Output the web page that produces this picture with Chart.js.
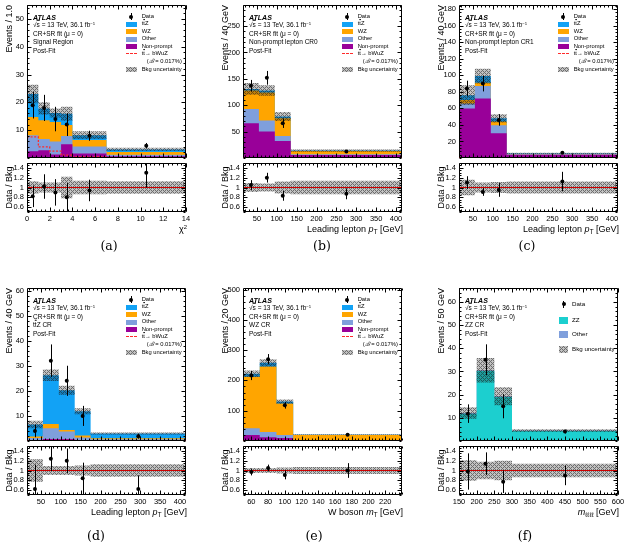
<!DOCTYPE html>
<html>
<head>
<meta charset="utf-8">
<script src="https://cdn.jsdelivr.net/npm/chart.js@4.4.1/dist/chart.umd.min.js"></script>
<style>
  body { margin: 0; background: #fff; }
  #fig { position: relative; width: 626px; height: 552px; overflow: hidden;
         font-family: "Liberation Sans", Arial, sans-serif; color: #000; }
  #fig canvas { position: absolute; }
  .txt { position: absolute; white-space: nowrap; line-height: 1; z-index: 5; }
  .ov { text-decoration: overline; }
  .sup { font-size: 65%; position: relative; top: -0.5em; }
  .sub { font-size: 70%; position: relative; top: 0.3em; }
  .box { position: absolute; z-index: 5; }
</style>
</head>
<body>
<div id="fig"></div>
<script>
// ---- data ----
const ratioTicks = [0.6, 0.8, 1, 1.2, 1.4];
const ptTicks = [50, 100, 150, 200, 250, 300, 350, 400];

// (a) signal region, chi^2
const aEdges = [0, 1, 2, 3, 4, 7, 14];
const aNonprompt = [2.4, 2.8, 1.3, 4.9, 1.6, 0.6];
const aOther = [5.8, 4.0, 4.6, 3.0, 2.5, 0.6];
const aWz = [6.5, 6.8, 7.0, 4.0, 2.4, 1.0];
const aTtz = [8.3, 4.2, 3.3, 4.0, 1.7, 0.9];
const aUnc = [3.3, 2.2, 1.6, 2.5, 1.4, 0.6];
const aSignal = [7.6, 4.0, 2.5, 1.0, 0.4, 0.1];
const aData = [19, 18, 14, 12, 8, 4.4];
const aDataErr = [4.8, 4.7, 4.4, 4.1, 1.8, 1.0];
const aRatio = [0.82, 1.02, 0.9, 0.8, 0.94, 1.3];
const aRatioErr = [0.22, 0.25, 0.27, 0.29, 0.22, 0.3];
const aRatioUnc = [0.13, 0.1, 0.1, 0.22, 0.14, 0.13];
const aXTicks = [0, 2, 4, 6, 8, 10, 12, 14];
const aYTicks = [10, 20, 30, 40, 50];

// (b) non-prompt lepton CR0
const bEdges = [15, 55, 95, 135, 415];
const bNonprompt = [66, 50, 32, 5.5];
const bOther = [27, 21, 9.5, 1.5];
const bWz = [35, 53, 34, 6.5];
const bTtz = [3, 4, 3, 0.5];
const bUnc = [11, 10, 8.5, 2];
const bSignal = [0.6, 0.5, 0.3, 0.05];
const bData = [137, 152, 66, 12.3];
const bDataErr = [11, 13, 9, 1.5];
const bRatio = [1.05, 1.2, 0.83, 0.87];
const bRatioErr = [0.1, 0.1, 0.1, 0.11];
const bRatioUnc = [0.09, 0.08, 0.12, 0.14];
const bYTicks = [50, 100, 150, 200, 250];

// (c) non-prompt lepton CR1
const cEdges = [15, 55, 95, 135, 415];
const cNonprompt = [60, 72, 30, 4.0];
const cOther = [6, 15, 9.5, 0.6];
const cWz = [4, 4, 4.5, 0.3];
const cTtz = [6, 8, 4, 0.6];
const cUnc = [12, 9, 5, 0.7];
const cSignal = [0.3, 0.3, 0.2, 0.02];
const cData = [84, 90, 46, 6.2];
const cDataErr = [9.5, 9.5, 7, 0.9];
const cRatio = [1.1, 0.91, 0.95, 1.12];
const cRatioErr = [0.13, 0.08, 0.14, 0.2];
const cRatioUnc = [0.16, 0.1, 0.11, 0.12];
const cYTicks = [20, 40, 60, 80, 100, 120, 140, 160, 180];

// (d) ttZ CR
const dEdges = [15, 55, 95, 135, 175, 415];
const dNonprompt = [0.3, 0.8, 0.8, 0.4, 0.2];
const dOther = [0.9, 4.3, 3.0, 1.0, 0.5];
const dWz = [0.6, 1.7, 0.6, 0.8, 0.4];
const dTtz = [4.8, 19.4, 15.8, 9.7, 1.9];
const dUnc = [1.5, 2.3, 1.8, 1.2, 0.4];
const dSignal = [0.05, 0.2, 0.2, 0.1, 0.02];
const dData = [4, 32, 24, 10, 1.85];
const dDataErr = [2.5, 6.5, 6, 4, 0.9];
const dRatio = [0.62, 1.24, 1.2, 0.84, 0.62];
const dRatioErr = [0.5, 0.25, 0.25, 0.32, 0.28];
const dRatioUnc = [0.23, 0.09, 0.09, 0.1, 0.13];
const dYTicks = [10, 20, 30, 40, 50, 60];

// (e) WZ CR
const eEdges = [50, 70, 90, 110, 240];
const eNonprompt = [20, 12, 10, 1.5];
const eOther = [22, 18, 10, 2];
const eWz = [170, 216, 104, 16];
const eTtz = [10, 12, 6, 1.5];
const eUnc = [11, 12, 7, 1.5];
const eSignal = [0.5, 0.5, 0.3, 0.05];
const eData = [216, 270, 118, 21];
const eDataErr = [15, 17, 11, 1.8];
const eRatio = [0.97, 1.05, 0.91, 1.0];
const eRatioErr = [0.07, 0.07, 0.09, 0.15];
const eRatioUnc = [0.05, 0.05, 0.06, 0.07];
const eXTicks = [60, 80, 100, 120, 140, 160, 180, 200, 220];
const eYTicks = [100, 200, 300, 400, 500];

// (f) ZZ CR
const fEdges = [150, 200, 250, 300, 600];
const fZz = [11.8, 30.2, 19.0, 4.3];
const fOther = [0.3, 0.3, 0.3, 0.2];
const fUnc = [2.5, 5.3, 3.9, 0.6];
const fData = [11.8, 35, 15, 4.05];
const fDataErr = [4, 6.7, 5.2, 0.8];
const fRatio = [0.98, 1.14, 0.77, 0.9];
const fRatioErr = [0.37, 0.23, 0.23, 0.2];
const fRatioUnc = [0.21, 0.18, 0.2, 0.14];
const fXTicks = [150, 200, 250, 300, 350, 400, 450, 500, 550, 600];
const fYTicks = [10, 20, 30, 40, 50, 60];

// ---- styles ----
const C_TTZ = '#12a2f5', C_WZ = '#ffa500', C_OTHER = '#7f9fdc', C_NP = '#990099', C_ZZ = '#1ccfcf';
const C_SIG = '#ff2a2a';
const FONT = '"Liberation Sans", Arial, sans-serif';
const AXW = 27, PADR = 10, PADT = 5, XLAB = 22;

const fig = document.getElementById('fig');

function makeTile() {
  const t = document.createElement('canvas');
  t.width = 4; t.height = 4;
  const c = t.getContext('2d');
  const img = c.createImageData(4, 4);
  for (let y = 0; y < 4; y++) {
    for (let x = 0; x < 4; x++) {
      const dark = (x + y) % 4 === 0 || (x - y + 4) % 4 === 0;
      const i = (y * 4 + x) * 4;
      img.data[i] = img.data[i + 1] = img.data[i + 2] = 30;
      img.data[i + 3] = dark ? 165 : 70;
    }
  }
  c.putImageData(img, 0, 0);
  return t;
}
const tile = makeTile();
const tileUrl = tile.toDataURL();

function steps(edges, vals) {
  const pts = vals.map((v, i) => ({ x: edges[i], y: v }));
  pts.push({ x: edges[edges.length - 1], y: vals[vals.length - 1] });
  return pts;
}
function centers(edges, vals) {
  return vals.map((v, i) => ({ x: (edges[i] + edges[i + 1]) / 2, y: v }));
}
function cumulate(list) {
  let acc = list[0].map(() => 0);
  return list.map(v => (acc = acc.map((a, i) => a + v[i])));
}
function minorValues(min, max, step) {
  const out = [];
  for (let k = Math.ceil(min / step - 1e-9); k * step <= max + 1e-9; k++) out.push(k * step);
  return out;
}

const framePlugin = {
  id: 'frame',
  afterDraw(chart, args, o) {
    const { ctx, chartArea: a } = chart;
    const xs = chart.scales.x, ys = chart.scales.y;
    const L = Math.round(a.left) + 0.5, R = Math.round(a.right) - 0.5;
    const T = Math.round(a.top) + 0.5, B = Math.round(a.bottom) - 0.5;
    ctx.save();
    ctx.strokeStyle = '#000';
    ctx.lineWidth = 1;
    ctx.beginPath();
    const tickX = (v, len) => {
      const x = Math.round(xs.getPixelForValue(v)) + 0.5;
      ctx.moveTo(x, B); ctx.lineTo(x, B - len);
      ctx.moveTo(x, T); ctx.lineTo(x, T + len);
    };
    const tickY = (v, len) => {
      const y = Math.round(ys.getPixelForValue(v)) + 0.5;
      ctx.moveTo(L, y); ctx.lineTo(L + len, y);
      ctx.moveTo(R, y); ctx.lineTo(R - len, y);
    };
    o.xMajor.forEach(v => tickX(v, 4));
    minorValues(xs.min, xs.max, o.xStep).forEach(v => tickX(v, 2));
    o.yMajor.forEach(v => tickY(v, 4));
    minorValues(ys.min, ys.max, o.yStep).forEach(v => tickY(v, 2));
    ctx.rect(L, T, R - L, B - T);
    ctx.stroke();
    ctx.restore();
  }
};

const errorPlugin = {
  id: 'errbars',
  afterDatasetsDraw(chart) {
    const { ctx, chartArea: a } = chart;
    const ys = chart.scales.y;
    chart.data.datasets.forEach((d, i) => {
      if (!d.errors) return;
      const meta = chart.getDatasetMeta(i);
      ctx.save();
      ctx.beginPath();
      ctx.rect(a.left, a.top, a.right - a.left, a.bottom - a.top);
      ctx.clip();
      ctx.strokeStyle = '#000';
      ctx.lineWidth = 1;
      meta.data.forEach((pt, j) => {
        const v = d.data[j].y, e = d.errors[j];
        const x = Math.round(pt.x) + 0.5;
        ctx.beginPath();
        ctx.moveTo(x, ys.getPixelForValue(v + e));
        ctx.lineTo(x, ys.getPixelForValue(v - e));
        ctx.stroke();
      });
      ctx.restore();
    });
  }
};

function yScale(min, max, ticks, title, align) {
  return {
    type: 'linear', min, max,
    grid: { display: false, drawTicks: false }, border: { display: false },
    afterBuildTicks: s => { s.ticks = ticks.map(v => ({ value: v })); },
    afterFit: s => { s.width = AXW; s.paddingTop = 0; s.paddingBottom = 0; },
    ticks: { font: { family: FONT, size: 7.5 }, color: '#000', padding: 3, callback: v => String(v) },
    title: { display: true, text: title, align, color: '#000',
             font: { family: FONT, size: 9 }, padding: { top: 4.5, bottom: 0 } }
  };
}

function line(data, extra) {
  return Object.assign({ data, stepped: true, pointRadius: 0, borderWidth: 0,
                         borderColor: 'transparent', fill: false, tension: 0 }, extra);
}

function addText(html, x, y, size, anchor, extraStyle) {
  const d = document.createElement('div');
  d.className = 'txt';
  d.innerHTML = html;
  d.style.left = x + 'px';
  d.style.top = y + 'px';
  d.style.fontSize = size + 'px';
  d.style.transform = anchor === 'right' ? 'translate(-100%,-50%)'
                    : anchor === 'center' ? 'translate(-50%,-50%)' : 'translateY(-50%)';
  if (extraStyle) Object.assign(d.style, extraStyle);
  fig.appendChild(d);
  return d;
}
function addBox(x, y, w, h, style) {
  const d = document.createElement('div');
  d.className = 'box';
  Object.assign(d.style, { left: x + 'px', top: y + 'px', width: w + 'px', height: h + 'px' }, style);
  fig.appendChild(d);
}

function buildPanel(p) {
  const fw = p.fw, mh = p.mh, rh = p.rh;
  const xmin = p.edges[0], xmax = p.edges[p.edges.length - 1];

  // main histogram pad
  const mc = document.createElement('canvas');
  mc.width = fw + AXW + PADR;
  mc.height = mh + PADT;
  mc.style.left = (p.fx - AXW) + 'px';
  mc.style.top = (p.fy - PADT) + 'px';
  fig.appendChild(mc);
  const mctx = mc.getContext('2d');
  const hatch = mctx.createPattern(tile, 'repeat');

  const cum = cumulate(p.stack.map(s => s.v));
  const total = cum[cum.length - 1];
  const ds = [];
  p.stack.forEach((s, k) => {
    ds.push(line(steps(p.edges, cum[k]), { backgroundColor: s.c, fill: 'origin', order: 100 + k }));
  });
  const lowIdx = ds.length;
  ds.push(line(steps(p.edges, total.map((t, i) => t - p.unc[i])), { order: 50 }));
  ds.push(line(steps(p.edges, total.map((t, i) => t + p.unc[i])),
               { fill: { target: lowIdx }, backgroundColor: hatch, order: 49 }));
  if (p.signal) {
    ds.push(line(steps(p.edges, p.signal),
                 { borderColor: C_SIG, borderWidth: 1.3, borderDash: [2, 1.6], order: 10 }));
  }
  ds.push({ data: centers(p.edges, p.data), showLine: false, pointRadius: 2,
            pointBackgroundColor: '#000', pointBorderWidth: 0, order: 0, errors: p.dataErr });

  new Chart(mctx, {
    type: 'line',
    data: { datasets: ds },
    options: {
      responsive: false, animation: false, devicePixelRatio: 1,
      layout: { padding: { left: 0, top: PADT, right: PADR, bottom: 0 } },
      plugins: { legend: { display: false }, tooltip: { enabled: false },
                 frame: { xMajor: p.xTicks, xStep: p.xStep, yMajor: p.yTicks, yStep: p.yStep } },
      scales: {
        x: { type: 'linear', min: xmin, max: xmax, display: false },
        y: yScale(0, p.ymax, p.yTicks, p.yTitle, 'end')
      }
    },
    plugins: [framePlugin, errorPlugin]
  });

  // ratio pad
  const ry = p.fy + mh;
  const rc = document.createElement('canvas');
  rc.width = fw + AXW + PADR;
  rc.height = rh + 3 + XLAB;
  rc.style.left = (p.fx - AXW) + 'px';
  rc.style.top = (ry - 3) + 'px';
  fig.appendChild(rc);
  const rctx = rc.getContext('2d');
  const rhatch = rctx.createPattern(tile, 'repeat');
  const rds = [
    line(steps(p.edges, p.ratioUnc.map(u => 1 - u)), { order: 50 }),
    line(steps(p.edges, p.ratioUnc.map(u => 1 + u)), { fill: { target: 0 }, backgroundColor: rhatch, order: 49 }),
    { data: [{ x: xmin, y: 1 }, { x: xmax, y: 1 }], borderColor: '#cc0000', borderWidth: 1,
      pointRadius: 0, fill: false, order: 5 },
    { data: centers(p.edges, p.ratio), showLine: false, pointRadius: 2,
      pointBackgroundColor: '#000', pointBorderWidth: 0, order: 0, errors: p.ratioErr }
  ];
  new Chart(rctx, {
    type: 'line',
    data: { datasets: rds },
    options: {
      responsive: false, animation: false, devicePixelRatio: 1,
      layout: { padding: { left: 0, top: 3, right: PADR, bottom: 0 } },
      plugins: { legend: { display: false }, tooltip: { enabled: false },
                 frame: { xMajor: p.xTicks, xStep: p.xStep, yMajor: ratioTicks, yStep: 0.05 } },
      scales: {
        x: {
          type: 'linear', min: xmin, max: xmax,
          grid: { display: false, drawTicks: false }, border: { display: false },
          afterBuildTicks: s => { s.ticks = p.xTicks.map(v => ({ value: v })); },
          afterFit: s => { s.height = XLAB; s.paddingLeft = 0; s.paddingRight = 0; },
          ticks: { font: { family: FONT, size: 7.5 }, color: '#000', padding: 2,
                   autoSkip: false, maxRotation: 0, callback: v => String(v) }
        },
        y: yScale(0.5, 1.5, ratioTicks, 'Data / Bkg', 'center')
      }
    },
    plugins: [framePlugin, errorPlugin]
  });

  // axis title, caption
  addText(p.xTitle, p.fx + fw + 1, ry + rh + 17, 9, 'right');
  addText('(' + p.key + ')', p.capX, ry + rh + (p.fy < 100 ? 34 : 41), 12.5, 'center', { fontFamily: '"DejaVu Serif", serif' });

  // ATLAS label block
  const ax = p.fx + 6;
  addText('ATLAS', ax, p.fy + 12.3, 7, null, { fontWeight: 'bold', fontStyle: 'italic' });
  addText('√<span class="ov">s</span> = 13 TeV, 36.1 fb<span class="sup">−1</span>', ax, p.fy + 20, 6.5);
  addText('CR+SR fit (μ = 0)', ax, p.fy + 28.5, 6.5);
  addText(p.region, ax, p.fy + 37.3, 6.5);
  addText('Post-Fit', ax, p.fy + 46, 6.5);

  // legend
  p.legend.forEach(r => {
    const cy = p.fy + r.dy;
    const bx = p.fx + p.legBox;
    if (r.kind === 'data') {
      addBox(bx + p.legW / 2 - 2, cy - 2, 4, 4, { background: '#000', borderRadius: '50%' });
      addBox(bx + p.legW / 2 - 0.5, cy - 3.5, 1, 7, { background: '#000' });
    } else if (r.kind === 'fill') {
      addBox(bx, cy - p.legH / 2, p.legW, p.legH, { background: r.c });
    } else if (r.kind === 'hatch') {
      addBox(bx, cy - p.legH / 2, p.legW, p.legH, { backgroundImage: 'url(' + tileUrl + ')' });
    } else if (r.kind === 'dash') {
      addBox(bx, cy - 0.6, p.legW, 0, { borderTop: '1.3px dashed ' + C_SIG });
    }
    addText(r.label, p.fx + p.legText + (r.indent || 0), cy, p.legFont);
  });
}

const stdLegend = [
  { kind: 'data', dy: 11.5, label: 'Data' },
  { kind: 'fill', dy: 19, c: C_TTZ, label: 't<span class="ov">t</span>Z' },
  { kind: 'fill', dy: 26.5, c: C_WZ, label: 'WZ' },
  { kind: 'fill', dy: 34, c: C_OTHER, label: 'Other' },
  { kind: 'fill', dy: 41.5, c: C_NP, label: 'Non-prompt' },
  { kind: 'dash', dy: 49, label: 't<span class="ov">t</span>→ bWuZ' },
  { kind: 'none', dy: 56.5, label: '(<i>ℬ</i> = 0.017%)', indent: 5 },
  { kind: 'hatch', dy: 64.5, label: 'Bkg uncertainty' }
];
const zzLegend = [
  { kind: 'data', dy: 16, label: 'Data' },
  { kind: 'fill', dy: 32.3, c: C_ZZ, label: 'ZZ' },
  { kind: 'fill', dy: 46, c: C_OTHER, label: 'Other' },
  { kind: 'hatch', dy: 61.3, label: 'Bkg uncertainty' }
];
const ptTitle = 'Leading lepton <i>p</i><span class="sub">T</span> [GeV]';
const std = { fw: 159, mh: 157, rh: 50, legend: stdLegend, legBox: 98.5, legW: 11, legH: 5, legText: 114.7, legFont: 5.8 };
function fourStack(np, ot, wz, tz) {
  return [{ v: np, c: C_NP }, { v: ot, c: C_OTHER }, { v: wz, c: C_WZ }, { v: tz, c: C_TTZ }];
}

const panels = [
  Object.assign({}, std, { key: 'a', fx: 27, fy: 5, capX: 109, edges: aEdges,
    stack: fourStack(aNonprompt, aOther, aWz, aTtz), unc: aUnc, signal: aSignal,
    data: aData, dataErr: aDataErr, ratio: aRatio, ratioErr: aRatioErr, ratioUnc: aRatioUnc,
    ymax: 55, yTicks: aYTicks, yStep: 2, xTicks: aXTicks, xStep: 0.4,
    yTitle: 'Events / 1.0', xTitle: 'χ<span class="sup">2</span>', region: 'Signal Region' }),
  Object.assign({}, std, { key: 'b', fx: 243, fy: 5, capX: 322, edges: bEdges,
    stack: fourStack(bNonprompt, bOther, bWz, bTtz), unc: bUnc, signal: bSignal,
    data: bData, dataErr: bDataErr, ratio: bRatio, ratioErr: bRatioErr, ratioUnc: bRatioUnc,
    ymax: 290, yTicks: bYTicks, yStep: 10, xTicks: ptTicks, xStep: 10,
    yTitle: 'Events / 40 GeV', xTitle: ptTitle, region: 'Non-prompt lepton CR0' }),
  Object.assign({}, std, { key: 'c', fx: 459, fy: 5, capX: 527, edges: cEdges,
    stack: fourStack(cNonprompt, cOther, cWz, cTtz), unc: cUnc, signal: cSignal,
    data: cData, dataErr: cDataErr, ratio: cRatio, ratioErr: cRatioErr, ratioUnc: cRatioUnc,
    ymax: 185, yTicks: cYTicks, yStep: 4, xTicks: ptTicks, xStep: 10,
    yTitle: 'Events / 40 GeV', xTitle: ptTitle, region: 'Non-prompt lepton CR1' }),
  Object.assign({}, std, { key: 'd', fx: 27, fy: 288, capX: 96, edges: dEdges,
    stack: fourStack(dNonprompt, dOther, dWz, dTtz), unc: dUnc, signal: dSignal,
    data: dData, dataErr: dDataErr, ratio: dRatio, ratioErr: dRatioErr, ratioUnc: dRatioUnc,
    ymax: 61, yTicks: dYTicks, yStep: 2, xTicks: ptTicks, xStep: 10,
    yTitle: 'Events / 40 GeV', xTitle: ptTitle, region: 't<span class="ov">t</span>Z CR' }),
  Object.assign({}, std, { key: 'e', fx: 243, fy: 288, capX: 314, edges: eEdges,
    stack: fourStack(eNonprompt, eOther, eWz, eTtz), unc: eUnc, signal: eSignal,
    data: eData, dataErr: eDataErr, ratio: eRatio, ratioErr: eRatioErr, ratioUnc: eRatioUnc,
    ymax: 505, yTicks: eYTicks, yStep: 20, xTicks: eXTicks, xStep: 4,
    yTitle: 'Events / 20 GeV', xTitle: 'W boson <i>m</i><span class="sub">T</span> [GeV]', region: 'WZ CR' }),
  Object.assign({}, std, { key: 'f', fx: 459, fy: 288, capX: 525, edges: fEdges,
    stack: [{ v: fZz, c: C_ZZ }, { v: fOther, c: C_OTHER }], unc: fUnc, signal: null,
    data: fData, dataErr: fDataErr, ratio: fRatio, ratioErr: fRatioErr, ratioUnc: fRatioUnc,
    ymax: 66, yTicks: fYTicks, yStep: 2, xTicks: fXTicks, xStep: 10,
    yTitle: 'Events / 50 GeV', xTitle: '<i>m</i><span class="sub">ℓℓℓℓ</span> [GeV]', region: 'ZZ CR',
    legend: zzLegend, legBox: 100, legW: 9, legH: 7, legText: 113, legFont: 6.2 })
];

panels.forEach(buildPanel);
</script>
</body>
</html>
